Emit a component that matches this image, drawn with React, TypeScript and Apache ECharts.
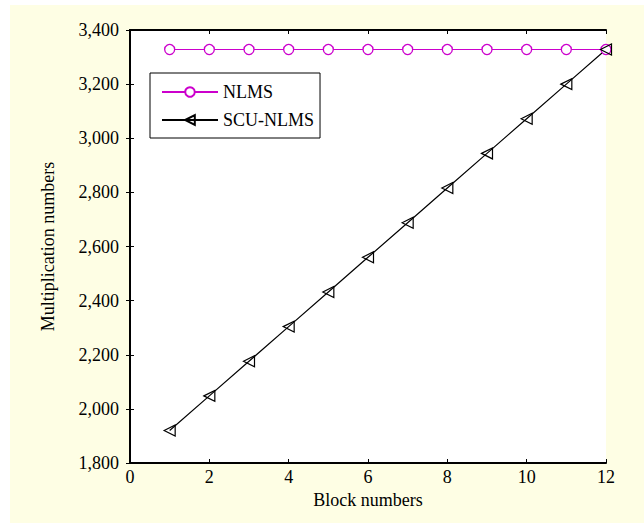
import React, { useEffect, useRef } from "react";
import * as echarts from "echarts";

const blocks = [1, 2, 3, 4, 5, 6, 7, 8, 9, 10, 11, 12];
const nlmsValues = [3328, 3328, 3328, 3328, 3328, 3328, 3328, 3328, 3328, 3328, 3328, 3328];
const scuNlmsValues = [1920, 2048, 2176, 2304, 2432, 2560, 2688, 2816, 2944, 3072, 3200, 3328];
const seriesNames = ["NLMS", "SCU-NLMS"];
const xAxisName = "Block numbers";
const yAxisName = "Multiplication numbers";

const FONT = "'Liberation Serif', 'Times New Roman', serif";

export default function App() {
  const ref = useRef<HTMLDivElement>(null);
  useEffect(() => {
    document.body.style.margin = "0";
    const chart = echarts.init(ref.current!, null, { renderer: "svg" });
    const axisLine = { show: true, lineStyle: { color: "#000", width: 2 } };
    const axisTick = { show: true, inside: true, length: 4, lineStyle: { color: "#000", width: 1 } };
    const labelStyle = { color: "#000", fontFamily: FONT, fontSize: 18 };
    chart.setOption({
      animation: false,
      backgroundColor: "#fefee4",
      grid: {
        left: 120,
        top: 25,
        right: 38,
        bottom: 60,
        show: true,
        backgroundColor: "#ffffff",
        borderWidth: 0,
      },
      legend: {
        left: 140,
        top: 68,
        orient: "vertical",
        backgroundColor: "#ffffff",
        borderColor: "#000",
        borderWidth: 1,
        borderRadius: 0,
        padding: [10, 6, 9, 11],
        itemGap: 10,
        itemWidth: 56,
        itemHeight: 12,
        textStyle: { color: "#000", fontFamily: FONT, fontSize: 18 },
        data: seriesNames,
      },
      xAxis: [
        {
          type: "value",
          min: 0,
          max: 12,
          interval: 2,
          position: "bottom",
          name: xAxisName,
          nameLocation: "middle",
          nameGap: 27,
          nameTextStyle: labelStyle,
          axisLine,
          axisTick,
          axisLabel: { ...labelStyle, margin: 5 },
          splitLine: { show: false },
        },
        {
          type: "value",
          min: 0,
          max: 12,
          interval: 2,
          position: "top",
          axisLine,
          axisTick,
          axisLabel: { show: false },
          splitLine: { show: false },
        },
      ],
      yAxis: [
        {
          type: "value",
          min: 1800,
          max: 3400,
          interval: 200,
          position: "left",
          name: yAxisName,
          nameLocation: "middle",
          nameGap: 73,
          nameTextStyle: labelStyle,
          axisLine,
          axisTick,
          axisLabel: {
            ...labelStyle,
            margin: 11,
            formatter: (v: number) => v.toLocaleString("en-US"),
          },
          splitLine: { show: false },
        },
        {
          type: "value",
          min: 1800,
          max: 3400,
          interval: 200,
          position: "right",
          axisLine,
          axisTick,
          axisLabel: { show: false },
          splitLine: { show: false },
        },
      ],
      series: [
        {
          name: seriesNames[0],
          type: "line",
          data: blocks.map((b, i) => [b, nlmsValues[i]]),
          clip: false,
          symbol: "circle",
          symbolSize: 10,
          showAllSymbol: true,
          lineStyle: { color: "#cc00cc", width: 1.2 },
          itemStyle: { color: "#ffffff", borderColor: "#cc00cc", borderWidth: 1.3 },
        },
        {
          name: seriesNames[1],
          type: "line",
          data: blocks.map((b, i) => [b, scuNlmsValues[i]]),
          clip: false,
          symbol: "triangle",
          symbolRotate: 90,
          symbolSize: 11,
          showAllSymbol: true,
          lineStyle: { color: "#000", width: 1.2 },
          itemStyle: { color: "rgba(255,255,255,0)", borderColor: "#000", borderWidth: 1.2 },
        },
      ],
    });
    return () => chart.dispose();
  }, []);
  return (
    <div style={{ position: "relative", width: 644, height: 523, background: "#fff" }}>
      <div
        ref={ref}
        style={{ position: "absolute", left: 10, top: 5, width: 634, height: 518 }}
      />
    </div>
  );
}
